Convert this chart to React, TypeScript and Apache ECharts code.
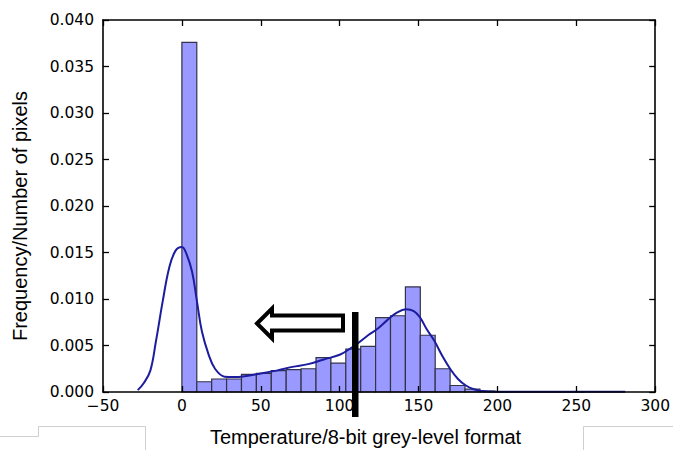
import React, { useEffect, useRef } from "react";
import * as echarts from "echarts";

// Histogram: 27 equal bins over 0..255 (density values)
const binCount = 27;
const binRange = 255;
const histValues = [
  0.0376, 0.0011, 0.0014, 0.0014, 0.0019, 0.002, 0.0023, 0.0024, 0.0025,
  0.0037, 0.0031, 0.0046, 0.0049, 0.008, 0.0082, 0.0113, 0.0061, 0.0025,
  0.0007, 0.0003, 0.0001, 0, 0, 0, 0, 0, 0,
];

// KDE curve
const kdeX = [
  -28, -24, -20, -16.5, -12, -8, -4, 0, 3, 6.5, 9.6, 12.7, 17, 21, 27, 33, 40,
  50, 60, 70, 80, 90, 100, 106, 112, 118, 124, 130, 136, 142, 147, 151, 155,
  160, 165, 170, 175, 180, 185, 190, 200, 240, 281,
];
const kdeY = [
  0.0002, 0.001, 0.0023, 0.0054, 0.0099, 0.0134, 0.0152, 0.0156, 0.0148,
  0.0129, 0.0097, 0.0065, 0.004, 0.0025, 0.00165, 0.0016, 0.0017, 0.002,
  0.0023, 0.0027, 0.003, 0.0035, 0.004, 0.0046, 0.0053, 0.0061, 0.0068,
  0.0077, 0.0085, 0.0089, 0.0087, 0.008, 0.0068, 0.0055, 0.0039, 0.0025,
  0.0014, 0.0007, 0.0003, 0.00012, 0.00004, 0.00002, 0.00002,
];

const xMin = -50;
const xMax = 300;
const xInterval = 50;
const yMin = 0;
const yMax = 0.04;
const yInterval = 0.005;

const xLabel = "Temperature/8-bit grey-level format";
const yLabel = "Frequency/Number of pixels";

export default function App() {
  const ref = useRef<HTMLDivElement>(null);

  useEffect(() => {
    if (!ref.current) return;
    const chart = echarts.init(ref.current, undefined, { renderer: "svg" });
    const binWidth = binRange / binCount;
    const histData = histValues.map((v, i) => [i * binWidth, (i + 1) * binWidth, v]);
    const kdeData = kdeX.map((x, i) => [x, kdeY[i]]);

    const tickFont = { fontFamily: "DejaVu Sans", fontSize: 15.5, color: "#000" };
    const axisLine = { show: true, onZero: false, lineStyle: { color: "#000", width: 1.6 } };
    const axisTick = { show: true, inside: true, length: 6, lineStyle: { color: "#000", width: 1.3 } };

    chart.setOption({
      animation: false,
      backgroundColor: "#fff",
      grid: { left: 103, right: 10, top: 20, bottom: 58, containLabel: false },
      xAxis: [
        {
          type: "value",
          min: xMin,
          max: xMax,
          interval: xInterval,
          position: "bottom",
          z: 5,
          axisLine,
          axisTick,
          splitLine: { show: false },
          axisLabel: {
            ...tickFont,
            margin: 6,
            formatter: (v: number) => (v < 0 ? "\u2212" + Math.abs(v) : String(v)),
          },
        },
        {
          type: "value",
          min: xMin,
          max: xMax,
          interval: xInterval,
          position: "top",
          z: 5,
          axisLine,
          axisTick,
          splitLine: { show: false },
          axisLabel: { show: false },
        },
      ],
      yAxis: [
        {
          type: "value",
          min: yMin,
          max: yMax,
          interval: yInterval,
          position: "left",
          z: 5,
          axisLine,
          axisTick,
          splitLine: { show: false },
          axisLabel: { ...tickFont, margin: 9, formatter: (v: number) => v.toFixed(3) },
        },
        {
          type: "value",
          min: yMin,
          max: yMax,
          interval: yInterval,
          position: "right",
          z: 5,
          axisLine,
          axisTick,
          splitLine: { show: false },
          axisLabel: { show: false },
        },
      ],
      series: [
        {
          type: "custom",
          xAxisIndex: 0,
          yAxisIndex: 0,
          encode: { x: [0, 1], y: 2 },
          data: histData,
          z: 2,
          renderItem: (params: any, api: any) => {
            const p0 = api.coord([api.value(0), api.value(2)]);
            const p1 = api.coord([api.value(1), 0]);
            return {
              type: "rect",
              shape: { x: p0[0], y: p0[1], width: p1[0] - p0[0], height: p1[1] - p0[1] },
              style: { fill: "#9999ff", stroke: "#33334a", lineWidth: 1.2 },
            };
          },
        },
        {
          type: "line",
          xAxisIndex: 0,
          yAxisIndex: 0,
          data: kdeData,
          smooth: 0.4,
          symbol: "none",
          z: 3,
          lineStyle: { color: "#1c1c9e", width: 2 },
        },
      ],
      graphic: [
        {
          type: "polygon",
          z: 100,
          shape: {
            points: [
              [257, 323.5],
              [272, 308.5],
              [272, 315.5],
              [343, 315.5],
              [343, 330.5],
              [272, 330.5],
              [272, 338.5],
            ],
          },
          style: { fill: "#fff", stroke: "#000", lineWidth: 4, lineJoin: "miter" },
        },
        {
          type: "rect",
          z: 100,
          shape: { x: 352, y: 312, width: 6.5, height: 105 },
          style: { fill: "#000" },
        },
        {
          type: "text",
          z: 100,
          x: 365.5,
          y: 437,
          style: {
            text: xLabel,
            fontFamily: "Liberation Sans",
            fontSize: 20,
            fill: "#000",
            textAlign: "center",
            textVerticalAlign: "middle",
          },
        },
        {
          type: "text",
          z: 100,
          x: 20,
          y: 216,
          rotation: Math.PI / 2,
          style: {
            text: yLabel,
            fontFamily: "Liberation Sans",
            fontSize: 20,
            fill: "#000",
            textAlign: "center",
            textVerticalAlign: "middle",
          },
        },
        {
          type: "polyline",
          z: 1,
          shape: { points: [[0, 436.5], [38.5, 436.5], [38.5, 426.5], [145.5, 426.5], [145.5, 450]] },
          style: { stroke: "#cfcfcf", lineWidth: 1, fill: "none" },
        },
        {
          type: "polyline",
          z: 1,
          shape: { points: [[673, 426.5], [583.5, 426.5], [583.5, 450]] },
          style: { stroke: "#cfcfcf", lineWidth: 1, fill: "none" },
        },
      ],
    });
    return () => chart.dispose();
  }, []);

  return (
    <div
      ref={ref}
      style={{ position: "fixed", left: 0, top: 0, width: 673, height: 450, background: "#fff" }}
    />
  );
}
